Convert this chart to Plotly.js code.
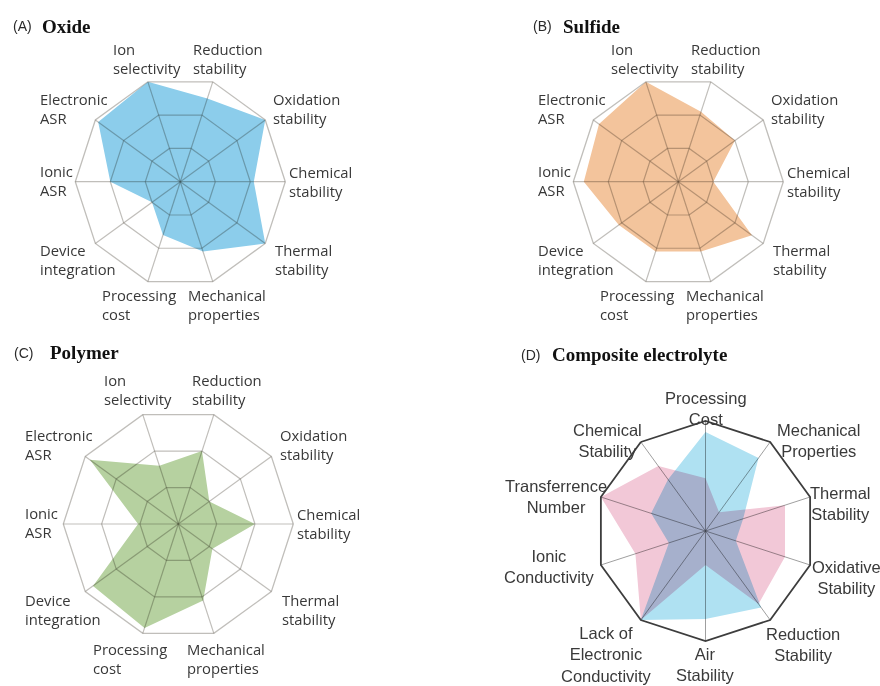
<!DOCTYPE html>
<html>
<head>
<meta charset="utf-8">
<script src="https://cdn.plot.ly/plotly-3.0.1.min.js"></script>
<style>
  html, body { margin: 0; padding: 0; background: #fff; }
  #chart { width: 880px; height: 686px; }
  /* fills act like colour film: grid lines and overlapping areas show through */
  #chart .polarlayer .frontplot { mix-blend-mode: multiply; }
  #chart .polarlayer .trace path.js-fill { mix-blend-mode: multiply; }
</style>
</head>
<body>
<div id="chart"></div>
<script>
const W = 880, H = 686;

// Panels A–C: electrolyte classes scored 0–3 on ten properties
const propLabels = ['Chemical<br>stability', 'Oxidation<br>stability', 'Reduction<br>stability',
  'Ion<br>selectivity', 'Electronic<br>ASR', 'Ionic<br>ASR', 'Device<br>integration',
  'Processing<br>cost', 'Mechanical<br>properties', 'Thermal<br>stability'];
const oxide   = [2.1, 3.0, 2.5, 3.0, 2.9, 2.0, 1.0, 1.6, 2.1, 3.0];
const sulfide = [1.0, 2.0, 2.1, 3.0, 2.8, 2.7, 2.1, 2.1, 2.1, 2.6];
const polymer = [2.0, 1.0, 2.0, 1.6, 2.85, 1.05, 2.75, 2.85, 2.1, 1.1];
const scoreRange = [0, 3];
const scoreRings = [1, 2];

// Panel D: composite electrolyte, normalised 0–1
const compositeLabels = ['Processing<br>Cost', 'Mechanical<br>Properties', 'Thermal<br>Stability',
  'Oxidative<br>Stability', 'Reduction<br>Stability', 'Air<br>Stability',
  'Lack of<br>Electronic<br>Conductivity', 'Ionic<br>Conductivity', 'Transferrence<br>Number',
  'Chemical<br>Stability'];
const compositeBlue = [0.90, 0.82, 0.36, 0.29, 0.86, 0.80, 1.0, 0.35, 0.52, 0.58];
const compositePink = [0.48, 0.21, 0.76, 0.76, 0.82, 0.31, 1.0, 0.67, 1.0, 0.73];

const panelTags  = ['(A)', '(B)', '(C)', '(D)'];
const panelNames = ['Oxide', 'Sulfide', 'Polymer', 'Composite electrolyte'];

// ---- layout geometry (pixels) ----
const panels = [
  { cx: 180.3, cy: 181.7, r: 105 },
  { cx: 678.3, cy: 181.7, r: 105 },
  { cx: 178.3, cy: 524.0, r: 115 },
  { cx: 705.5, cy: 531.0, r: 110 }
];
const titlePos = [
  { tag: 12.5, name: 42.0, y: 26.3 },
  { tag: 532.5, name: 562.5, y: 26.3 },
  { tag: 13.5, name: 50.0, y: 352.5 },
  { tag: 520.5, name: 551.5, y: 354.5 }
];
// label block offsets in units of the panel radius (left edge, block middle)
const propLabelOffsets = [
  [1.032, -0.005], [0.880, -0.694], [0.118, -1.169], [-0.644, -1.169], [-1.333, -0.694],
  [-1.333, -0.009], [-1.333, 0.741], [-0.743, 1.170], [0.076, 1.170], [0.902, 0.741]
];
// label block offsets in units of the panel radius (centre, block middle)
const compositeLabelOffsets = [
  [0, -1.115], [1.023, -0.825], [1.223, -0.252], [1.286, 0.421], [0.886, 1.029],
  [0, 1.215], [-0.898, 1.125], [-1.420, 0.327], [-1.355, -0.312], [-0.895, -0.827]
];

const gridGray = 'rgba(105,100,90,0.42)';
const propFont = { family: 'Open Sans, sans-serif', size: 14.8, color: '#383838' };
const compFont = { family: 'Liberation Sans, Arial, sans-serif', size: 16.5, color: '#3a3a3a' };
const tagFont  = { family: 'Liberation Sans, Arial, sans-serif', size: 14, color: '#2a2a2a' };
const nameFont = { family: 'Liberation Serif, Times New Roman, serif', size: 19, color: '#111' };

function domainOf(p) {
  return {
    x: [(p.cx - p.r) / W, (p.cx + p.r) / W],
    y: [1 - (p.cy + p.r) / H, 1 - (p.cy - p.r) / H]
  };
}

function scorePolar(p) {
  return {
    domain: domainOf(p),
    gridshape: 'linear',
    bgcolor: 'rgba(0,0,0,0)',
    radialaxis: {
      range: scoreRange, tickvals: scoreRings, showticklabels: false, ticks: '',
      showline: false, showgrid: true, gridcolor: gridGray, gridwidth: 1.2
    },
    angularaxis: {
      type: 'category', categoryarray: propLabels, direction: 'counterclockwise', rotation: 0,
      showticklabels: false, ticks: '', showgrid: true, gridcolor: gridGray, gridwidth: 1.2,
      showline: true, linecolor: gridGray, linewidth: 1.3, layer: 'above traces'
    }
  };
}

function compositePolar(p) {
  return {
    domain: domainOf(p),
    gridshape: 'linear',
    bgcolor: 'rgba(0,0,0,0)',
    radialaxis: {
      range: [0, 1], showgrid: false, showticklabels: false, ticks: '', showline: false
    },
    angularaxis: {
      type: 'category', categoryarray: compositeLabels, direction: 'clockwise', rotation: 90,
      showticklabels: false, ticks: '', showgrid: true, gridcolor: 'rgba(80,80,80,0.55)',
      gridwidth: 1, showline: true, linecolor: '#3d3d3d', linewidth: 1.8, layer: 'above traces'
    }
  };
}

function area(subplot, r, theta, color) {
  return {
    type: 'scatterpolar', subplot: subplot, r: r, theta: theta,
    mode: 'lines', fill: 'toself', fillcolor: color, line: { width: 0, color: color },
    hoverinfo: 'skip'
  };
}

const traces = [
  area('polar',  oxide,   propLabels, '#8ccdeb'),
  area('polar2', sulfide, propLabels, '#f3c49c'),
  area('polar3', polymer, propLabels, '#b6d1a0'),
  area('polar4', compositeBlue, compositeLabels, '#afe1f2'),
  area('polar4', compositePink, compositeLabels, '#f2c8d7')
];

const annotations = [];
function addText(text, x, y, font, anchor) {
  annotations.push({
    xref: 'paper', yref: 'paper', x: x / W, y: 1 - y / H,
    text: text, showarrow: false, xanchor: anchor, yanchor: 'middle', align: anchor,
    font: font, borderpad: 0, borderwidth: 0
  });
}

for (let i = 0; i < 3; i++) {
  const p = panels[i];
  propLabels.forEach((lab, j) => {
    const o = propLabelOffsets[j];
    addText(lab, p.cx + o[0] * p.r, p.cy + o[1] * p.r, propFont, 'left');
  });
}
{
  const p = panels[3];
  compositeLabels.forEach((lab, j) => {
    const o = compositeLabelOffsets[j];
    addText(lab, p.cx + o[0] * p.r, p.cy + o[1] * p.r, compFont, 'center');
  });
}
titlePos.forEach((t, i) => {
  addText(panelTags[i], t.tag, t.y, tagFont, 'left');
  addText('<b>' + panelNames[i] + '</b>', t.name, t.y, nameFont, 'left');
});

const layout = {
  width: W, height: H,
  margin: { l: 0, r: 0, t: 0, b: 0 },
  paper_bgcolor: '#fff',
  showlegend: false,
  polar:  scorePolar(panels[0]),
  polar2: scorePolar(panels[1]),
  polar3: scorePolar(panels[2]),
  polar4: compositePolar(panels[3]),
  annotations: annotations
};

Plotly.newPlot('chart', traces, layout, { staticPlot: true, displayModeBar: false });
</script>
</body>
</html>
